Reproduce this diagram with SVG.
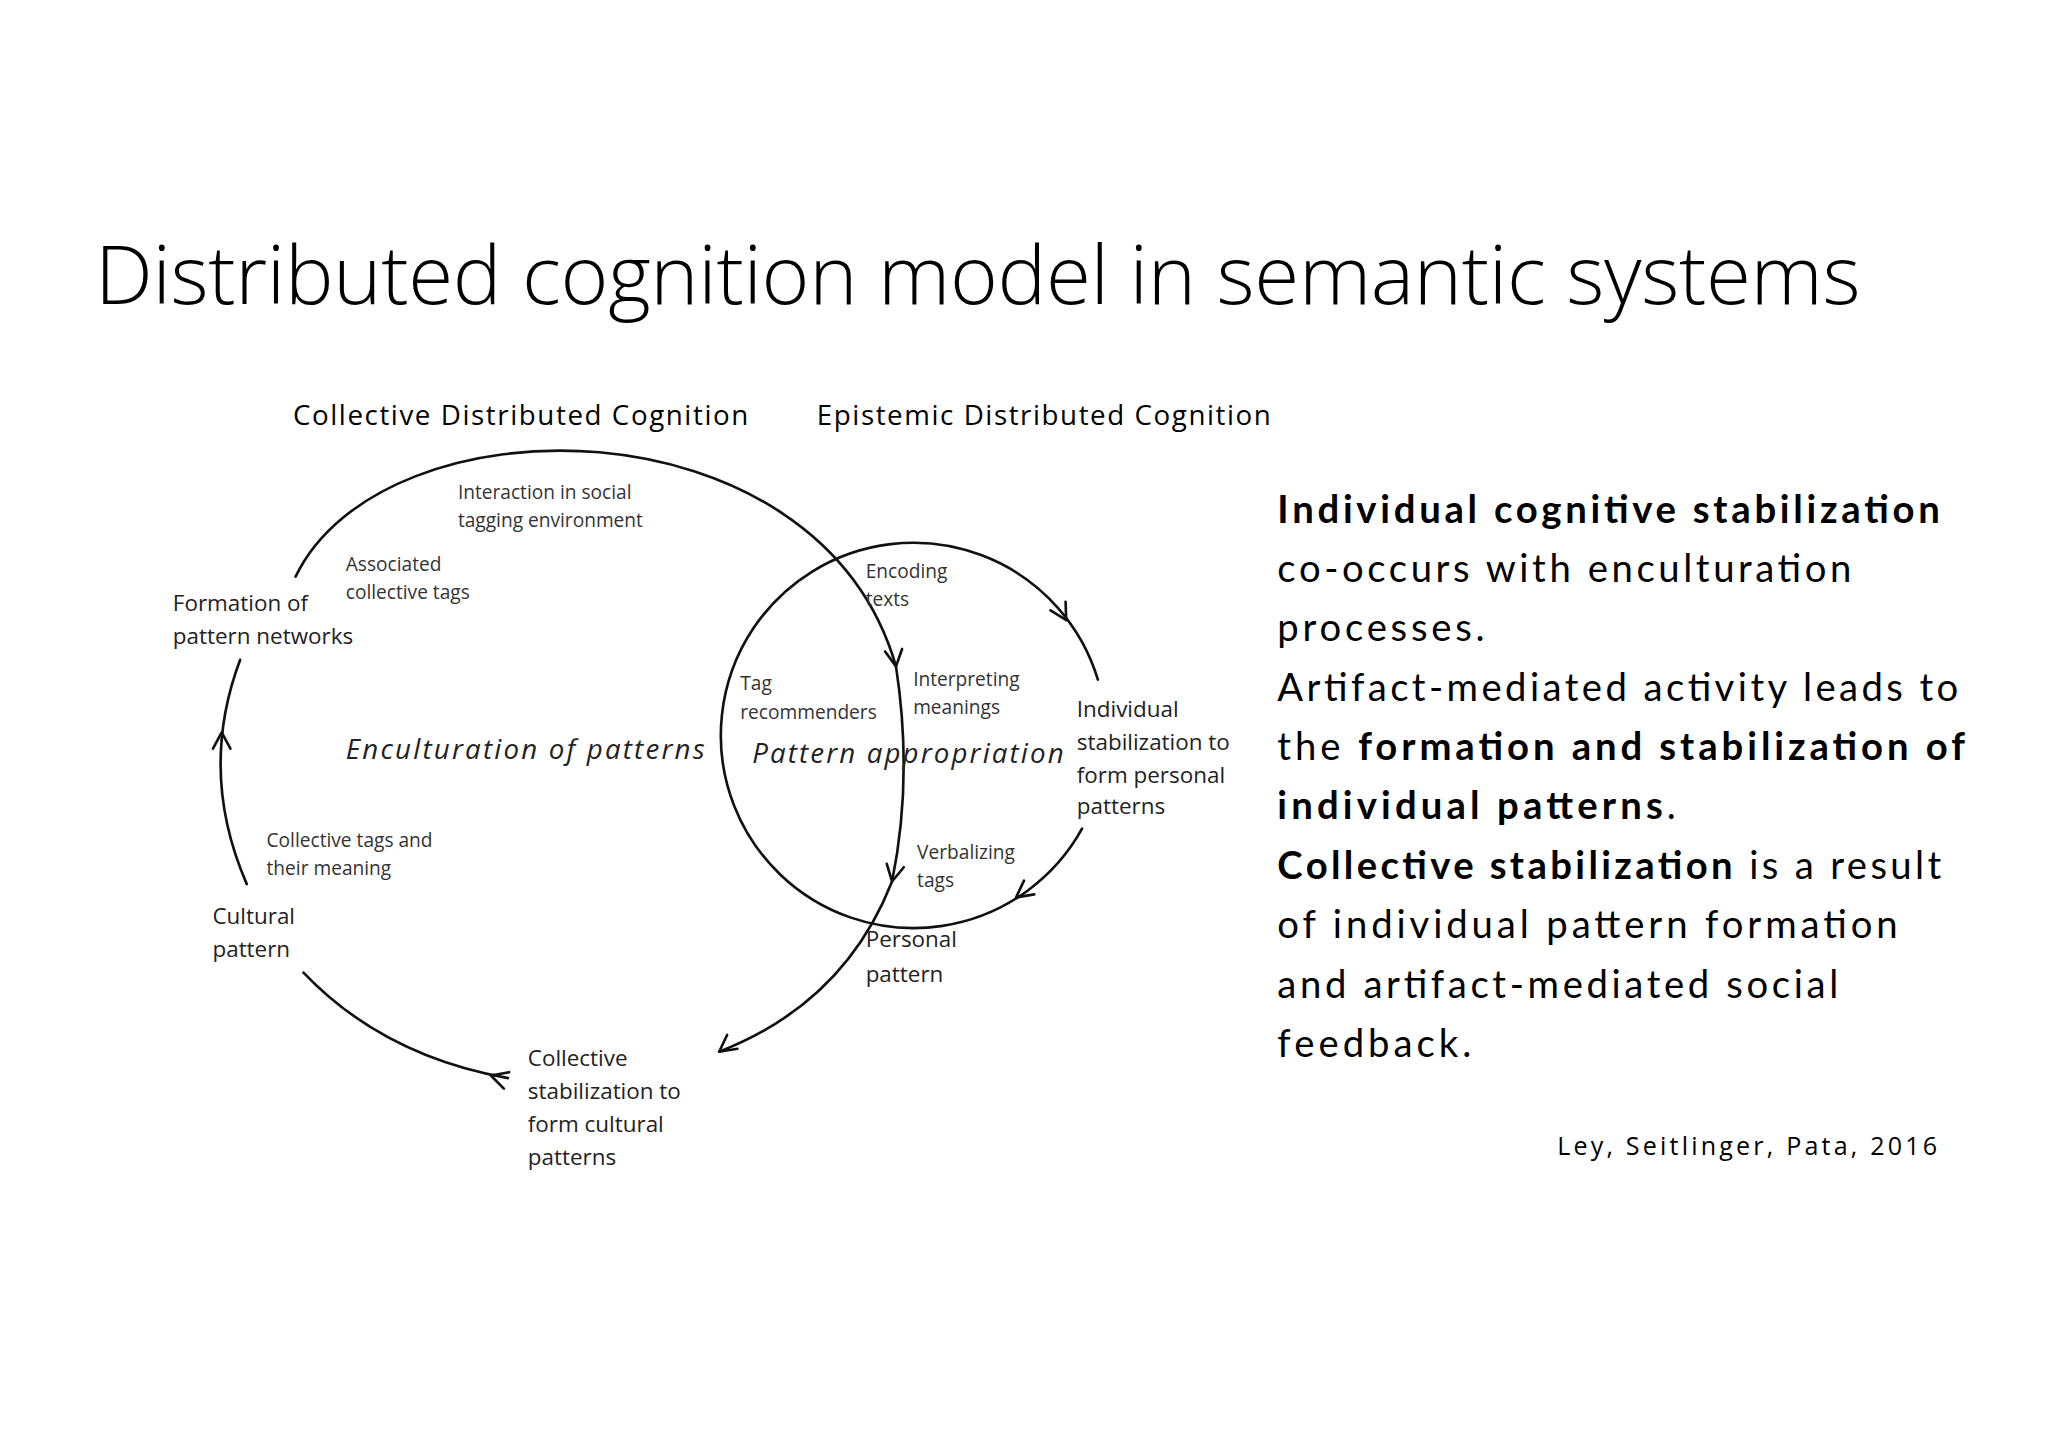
<svg xmlns="http://www.w3.org/2000/svg" width="2048" height="1447" viewBox="0 0 2048 1447">
<style>
.t{font-family:"Open Sans","Liberation Sans",sans-serif;fill:#000}
.l{font-family:"Open Sans","Liberation Sans",sans-serif;fill:#333;font-size:14.5px}
.m{font-family:"Open Sans","Liberation Sans",sans-serif;fill:#222;font-size:17px}
.i{font-family:"Open Sans","Liberation Sans",sans-serif;fill:#222;font-size:21px;font-style:italic}
.b{font-family:Lato,"Open Sans",sans-serif;fill:#000;font-size:29px}
.c{fill:none;stroke:#111;stroke-width:2;stroke-linecap:round;stroke-linejoin:round}
</style>
<rect width="2048" height="1447" fill="#fff"/>
<g transform="scale(1.3196)">
<text class="t" x="72" y="230" font-size="62" font-weight="300" textLength="1338">Distributed cognition model in semantic systems</text>
<g id="headers">
<text class="t" x="222" y="322" font-size="21" fill="#222" textLength="345">Collective Distributed Cognition</text>
<text class="t" x="619" y="322" font-size="21" fill="#222" textLength="344">Epistemic Distributed Cognition</text>
</g>
<g id="connectors">
<path class="c" d="M224,437 C290,300 620,300 679,505 Q692,590 676,668 Q640,760 545,797"/>
<path class="c" d="M187,670 Q150,585 182,500"/>
<path class="c" d="M230,737 Q290,800 385,817"/>
<path class="c" d="M820,628 A146,146 0 1,1 832,515"/>
<path class="c" d="M683.6,491.8 L679,505 L670.7,493.7"/>
<path class="c" d="M684.9,657.2 L676,668 L672,654.6"/>
<path class="c" d="M558.8,794.8 L545,797 L551,784.3"/>
<path class="c" d="M161.4,567.4 L168,555 L174.6,567.4"/>
<path class="c" d="M381.8,825 L372,815 L385.8,812.5"/>
<path class="c" d="M807.5,456 L808,470 L796.1,462.5"/>
<path class="c" d="M783.8,677.8 L770,680 L776,667.3"/>
</g>
<g id="interaction"><text class="l" x="347" y="378">Interaction in social</text><text class="l" x="347" y="399">tagging environment</text></g>
<g id="associated"><text class="l" x="262" y="433">Associated</text><text class="l" x="262" y="454">collective tags</text></g>
<g id="formation"><text class="m" x="131" y="463">Formation of</text><text class="m" x="131" y="488">pattern networks</text></g>
<g id="encoding"><text class="l" x="656" y="438">Encoding</text><text class="l" x="656" y="459">texts</text></g>
<g id="tagrec"><text class="l" x="561" y="523">Tag</text><text class="l" x="561" y="545">recommenders</text></g>
<g id="interpreting"><text class="l" x="692" y="520">Interpreting</text><text class="l" x="692" y="541">meanings</text></g>
<g id="individual"><text class="m" x="816" y="543">Individual</text><text class="m" x="816" y="568">stabilization to</text><text class="m" x="816" y="593">form personal</text><text class="m" x="816" y="617">patterns</text></g>
<g id="enculturation"><text class="i" x="262" y="575" textLength="272">Enculturation of patterns</text></g>
<g id="appropriation"><text class="i" x="570" y="578" textLength="236">Pattern appropriation</text></g>
<g id="colltags"><text class="l" x="202" y="642">Collective tags and</text><text class="l" x="202" y="663">their meaning</text></g>
<g id="verbalizing"><text class="l" x="695" y="651">Verbalizing</text><text class="l" x="695" y="672">tags</text></g>
<g id="cultural"><text class="m" x="161" y="700">Cultural</text><text class="m" x="161" y="725">pattern</text></g>
<g id="personal"><text class="m" x="656" y="718">Personal</text><text class="m" x="656" y="744">pattern</text></g>
<g id="collstab"><text class="m" x="400" y="808">Collective</text><text class="m" x="400" y="833">stabilization to</text><text class="m" x="400" y="858">form cultural</text><text class="m" x="400" y="883">patterns</text></g>
<g id="summary">
<text class="b" x="968" y="396" font-weight="bold" textLength="502">Individual cognitive stabilization</text>
<text class="b" x="968" y="441" textLength="435">co-occurs with enculturation</text>
<text class="b" x="968" y="486" textLength="157">processes.</text>
<text class="b" x="968" y="531" textLength="516">Artifact-mediated activity leads to</text>
<text class="b" x="968" y="576" textLength="521">the <tspan font-weight="bold">formation and stabilization of</tspan></text>
<text class="b" x="968" y="621" textLength="302"><tspan font-weight="bold">individual patterns</tspan>.</text>
<text class="b" x="968" y="666" textLength="503"><tspan font-weight="bold">Collective stabilization</tspan> is a result</text>
<text class="b" x="968" y="711" textLength="470">of individual pattern formation</text>
<text class="b" x="968" y="756" textLength="425">and artifact-mediated social</text>
<text class="b" x="968" y="801" textLength="147">feedback.</text>
</g>
<text class="t" x="1180" y="875" font-size="19" textLength="288">Ley, Seitlinger, Pata, 2016</text>
</g>
</svg>
